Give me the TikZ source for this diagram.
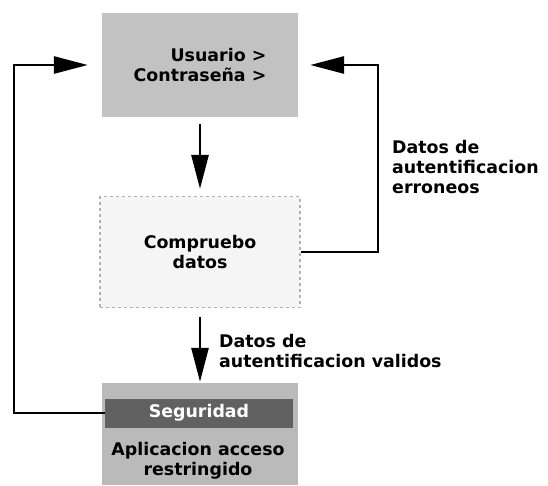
\documentclass[tikz,border=0pt]{standalone}
\usepackage{fontspec}
\setmainfont{DejaVu Sans}
\usepackage{tikz}
\usetikzlibrary{arrows.meta}

\begin{document}
\begin{tikzpicture}[x=1pt,y=-1pt]
\tikzstyle{every node}=[font=\fontsize{17.4}{20}\selectfont\bfseries,inner sep=0pt,align=center];
\tikzstyle{caja}=[draw=none,shape=rectangle,minimum width=196pt];
\tikzstyle{flecha}=[line width=2.8pt,-{Triangle[length=34pt,width=17pt]}];
\useasboundingbox (0,0) rectangle (548,485);
% cajas
\node[caja,fill=black!24,minimum height=104pt,align=right] (usuario) at (200,65) {Usuario >\\Contraseña >};
\node[caja,fill=black!4,draw=black!30,dashed,line width=1.2pt,minimum width=200pt,minimum height=111pt] (comprobar) at (200,252) {Compruebo\\datos};
\node[caja,fill=black!27,minimum height=102pt] (aplicacion) at (200,434) {};
\node[caja,fill=black!62,text=white,minimum width=188pt,minimum height=29pt] (seguridad) at (199,413) {Seguridad};
\node (restringido) at (198,461) {Aplicacion acceso\\restringido};
% etiquetas
\node[anchor=west,align=left] (erroneos) at (392,167) {Datos de\\autentificacion\\erroneos};
\node[anchor=west,align=left] (validos) at (219,351) {Datos de\\autentificacion validos};
% flechas
\draw[flecha,shorten <=7pt,shorten >=7pt] (usuario.south) -- (comprobar.north);
\draw[flecha,shorten <=9pt,shorten >=1pt] (comprobar.south) -- (aplicacion.north);
\draw[flecha,shorten >=12pt] (comprobar.east) -- (378,252) |- (usuario.east);
\draw[flecha,shorten >=14pt] (seguridad.west) -- (14,413) |- (usuario.west);
\end{tikzpicture}
\end{document}
